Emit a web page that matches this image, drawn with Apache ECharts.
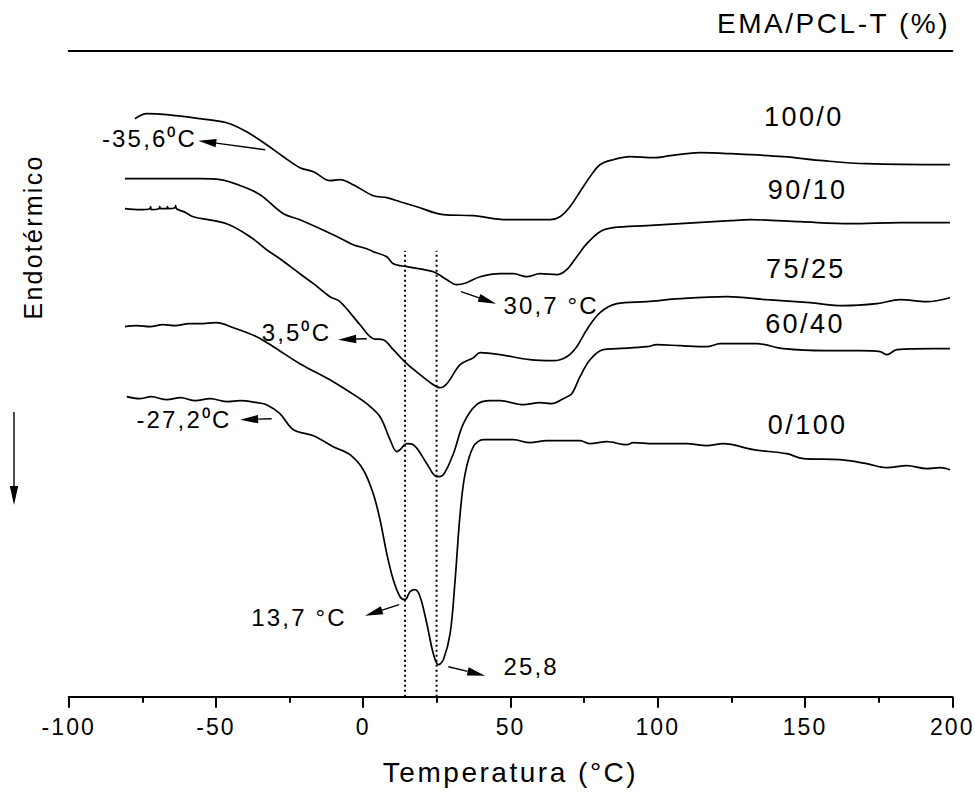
<!DOCTYPE html>
<html>
<head>
<meta charset="utf-8">
<script src="https://cdn.jsdelivr.net/npm/echarts@6/dist/echarts.min.js"></script>
<style>
html,body{margin:0;padding:0;background:#fff;}
#main{width:975px;height:794px;}
#main text{letter-spacing:0.09em;}
</style>
</head>
<body>
<div id="main"></div>
<script>
// ---- data (temperature in °C, heat flow in arbitrary units, offset per curve) ----
const seriesNames = ['100/0', '90/10', '75/25', '60/40', '0/100'];
const xTickValues = [-100, -50, 0, 50, 100, 150, 200];

const curve100_0 = [
  [-77.5,57.8],[-73.5,58.3],[-66.7,58.2],[-55.4,57.8],[-46.4,57.4],[-39.6,56.5],[-32.8,55.2],
  [-27.1,54.0],[-21.5,52.9],[-16.9,52.5],[-11.3,51.6],[-7.9,51.7],[-3.4,51.2],[3.4,50.1],
  [8.0,49.9],[12.5,49.5],[18.2,49.0],[27.2,48.2],[37.4,48.1],[48.7,47.7],[63.4,47.7],
  [66.8,48.0],[70.2,49.0],[73.6,50.5],[77.0,52.0],[80.4,53.2],[84.9,53.7],[90.6,54.0],
  [98.5,53.9],[104.2,54.1],[109.8,54.3],[114.4,54.4],[124.6,54.3],[142.7,54.0],[156.2,53.6],
  [170.9,53.3],[199.2,53.2]
];
const curve90_10 = [
  [-80.9,51.8],[-55.4,51.8],[-48.6,51.7],[-40.7,51.0],[-35.0,50.2],[-27.1,48.3],[-21.5,47.7],
  [-10.2,46.2],[-3.4,45.2],[1.2,44.8],[3.4,44.5],[8.0,44.0],[10.2,43.3],[14.8,43.0],[23.8,42.5],
  [28.4,41.7],[31.7,41.2],[35.1,41.4],[39.7,42.0],[46.5,42.3],[51.0,42.3],[55.5,42.0],[60.0,42.3],
  [65.7,42.2],[69.1,42.7],[72.5,44.0],[75.9,45.3],[80.4,46.5],[84.9,46.9],[96.3,47.1],[107.6,47.3],
  [124.6,47.6],[131.3,47.7],[148.3,47.5],[165.3,47.3],[182.3,47.4],[199.2,47.4]
];
const curve75_25 = [
  [-80.9,48.8],[-75.8,48.7],[-72.4,48.8],[-72.2,49.0],[-71.9,48.7],[-69.3,48.8],[-69.1,49.0],
  [-68.8,48.8],[-66.6,48.8],[-66.5,49.0],[-66.1,48.8],[-63.9,48.9],[-63.7,49.1],[-63.4,48.8],
  [-60.2,48.4],[-57.7,48.0],[-46.4,47.3],[-38.4,46.0],[-32.8,44.7],[-28.3,43.8],[-21.5,42.3],
  [-16.9,41.3],[-11.3,40.0],[-7.9,39.5],[-1.1,37.2],[3.4,35.8],[6.8,35.7],[10.2,34.7],[14.8,33.3],
  [19.3,32.2],[23.8,31.2],[26.1,30.9],[28.4,31.3],[32.9,33.2],[37.4,33.9],[39.7,34.4],[46.5,34.2],
  [56.6,33.7],[64.6,33.6],[69.1,34.0],[72.5,35.0],[75.9,36.7],[80.4,38.4],[86.1,39.3],[96.3,39.5],
  [107.6,39.8],[123.5,40.0],[137.0,39.7],[151.7,39.4],[163.0,39.1],[174.4,39.3],[182.3,39.7],
  [191.3,39.5],[199.2,39.9]
];
const curve60_40 = [
  [-80.9,37.0],[-77.0,37.1],[-72.4,37.0],[-68.0,37.2],[-63.9,37.1],[-59.0,37.3],[-55.4,37.3],
  [-50.0,37.4],[-44.1,36.9],[-36.2,36.0],[-30.5,35.0],[-21.5,33.3],[-10.2,31.5],[-1.1,29.8],
  [1.2,29.3],[5.7,28.0],[9.1,25.7],[11.4,24.5],[12.5,24.7],[14.8,25.3],[17.0,25.2],[21.6,23.3],
  [25.0,22.0],[27.2,22.2],[30.6,24.3],[34.0,27.3],[38.5,29.2],[43.1,29.6],[46.5,29.6],[54.4,29.2],
  [60.0,29.4],[64.0,29.3],[67.9,29.8],[70.8,30.3],[73.6,32.0],[77.0,33.7],[81.5,34.7],[86.1,34.8],
  [96.3,35.0],[99.7,35.2],[107.6,35.1],[116.6,35.0],[121.2,35.3],[133.6,35.3],[142.7,34.8],
  [157.4,34.6],[168.7,34.6],[175.5,34.5],[177.8,34.2],[181.2,34.7],[193.6,34.8],[199.2,34.8]
];
const curve0_100 = [
  [-80.3,30.0],[-76.0,29.8],[-72.0,30.0],[-66.7,29.7],[-62.0,29.9],[-57.0,29.6],[-52.0,29.8],
  [-46.0,29.5],[-41.8,29.6],[-36.0,29.4],[-32.8,29.2],[-28.3,28.3],[-23.7,26.7],[-16.9,26.1],
  [-10.2,25.0],[-4.5,24.2],[0.0,22.7],[3.4,20.3],[5.7,17.7],[8.0,14.3],[10.2,11.7],[12.5,10.0],
  [14.2,9.7],[15.9,10.5],[17.6,10.7],[19.3,10.0],[21.6,7.3],[23.8,4.3],[25.5,3.2],[27.2,3.7],
  [29.5,6.3],[31.2,11.7],[32.9,18.3],[34.6,22.3],[37.4,25.0],[40.8,25.7],[46.5,25.7],[51.0,25.7],
  [56.6,25.4],[62.3,25.6],[73.6,25.6],[77.0,25.3],[82.7,25.5],[89.5,25.2],[91.7,25.4],[98.5,25.3],
  [109.8,25.3],[116.6,25.1],[122.3,25.3],[132.5,24.7],[143.8,24.3],[149.4,23.8],[161.9,23.7],
  [170.9,23.3],[177.8,22.9],[184.6,23.1],[191.3,22.8],[195.9,22.9],[199.2,22.7]
];
const refLineTemps = [14.2, 24.9];   // dotted reference lines (°C)
const refLineTop = 44.6;

// annotation texts and arrows (data coordinates)
const annotationTexts = ['-35,6\u2070C', '30,7 \u00B0C', '3,5\u2070C', '-27,2\u2070C', '13,7 \u00B0C', '25,8'];
const annotationAt = [[-56.4,55.8],[47.6,39.1],[-10.9,36.4],[-44.7,27.7],[-5.6,7.9],[47.6,3.0]];
const annotationAlign = ['right','left','right','right','right','left'];
const arrowFrom = [[-33.3,54.7],[33.2,40.5],[1.2,35.8],[-31.1,27.8],[12.2,9.2],[28.9,3.0]];
const arrowTo   = [[-56.0,55.6],[45.1,39.3],[-8.5,35.7],[-41.8,27.7],[0.6,8.1],[41.4,2.1]];
const seriesLabelAt = [[149.6,58.0],[150.9,50.7],[150.3,42.8],[150.0,37.3],[150.9,27.2]];

// ---- chart ----
const FONT = '"Liberation Sans", Arial, Helvetica, sans-serif';
const chart = echarts.init(document.getElementById('main'), null, {renderer: 'svg'});
const curves = [curve100_0, curve90_10, curve75_25, curve60_40, curve0_100];

const series = curves.map((d, i) => ({
  type: 'line', name: seriesNames[i], data: d, xAxisIndex: 0, yAxisIndex: 0,
  symbol: 'none', smooth: 0.35, silent: true,
  lineStyle: {color: '#000', width: 1.7}
}));
refLineTemps.forEach(t => series.push({
  type: 'line', data: [[t, 0], [t, refLineTop]], xAxisIndex: 0, yAxisIndex: 0,
  symbol: 'none', silent: true, lineStyle: {color: '#000', width: 2, type: [2, 3]}
}));

const option = {
  animation: false,
  backgroundColor: '#fff',
  grid: {left: 68.7, right: 22.7, top: 51, bottom: 97.3},
  xAxis: [{
    type: 'value', min: xTickValues[0], max: xTickValues[xTickValues.length - 1], interval: 50,
    position: 'bottom',
    name: 'Temperatura (\u00B0C)', nameLocation: 'middle', nameGap: 76,
    nameTextStyle: {color: '#000', fontSize: 28, fontFamily: FONT, verticalAlign: 'middle'},
    axisLine: {onZero: false, lineStyle: {color: '#000', width: 2}},
    axisTick: {length: 11, lineStyle: {color: '#000', width: 2}},
    minorTick: {show: true, splitNumber: 2, length: 6, lineStyle: {color: '#000', width: 2}},
    splitLine: {show: false}, minorSplitLine: {show: false},
    axisLabel: {color: '#000', fontSize: 23, fontFamily: FONT, margin: 19, showMinLabel: true, showMaxLabel: true}
  }, {
    type: 'value', min: -100, max: 200, position: 'top',
    axisLine: {onZero: false, lineStyle: {color: '#000', width: 2}},
    axisTick: {show: false}, axisLabel: {show: false}, splitLine: {show: false}
  }],
  yAxis: {type: 'value', min: 0, max: 64.57, show: false},
  series: series
};
chart.setOption(option);

// ---- annotations drawn from data coordinates ----
const P = p => chart.convertToPixel({gridIndex: 0}, p);
const els = [];
function txt(x, y, text, size, align, rot) {
  return {type: 'text', x: x, y: y, rotation: rot || 0, silent: true,
    style: {text: text, fontSize: size, fontFamily: FONT, fill: '#000',
      align: align, textAlign: align, verticalAlign: 'middle', textVerticalAlign: 'middle'}};
}
function arrow(a, b, len, hw, width) {
  const dx = b[0] - a[0], dy = b[1] - a[1];
  const L = Math.hypot(dx, dy), ux = dx / L, uy = dy / L;
  const bx = b[0] - ux * len, by = b[1] - uy * len;
  const nx = -uy * hw, ny = ux * hw;
  els.push({type: 'line', silent: true, shape: {x1: a[0], y1: a[1], x2: bx, y2: by},
    style: {stroke: '#000', lineWidth: width}});
  els.push({type: 'polygon', silent: true,
    shape: {points: [[b[0], b[1]], [bx + nx, by + ny], [bx - nx, by - ny]]},
    style: {fill: '#000'}});
}
seriesNames.forEach((n, i) => {
  const p = P(seriesLabelAt[i]);
  els.push(txt(p[0], p[1], n, 27, 'center'));
});
annotationTexts.forEach((t, i) => {
  const p = P(annotationAt[i]);
  els.push(txt(p[0], p[1], t, 24, annotationAlign[i]));
});
arrowFrom.forEach((f, i) => arrow(P(f), P(arrowTo[i]), 18, 4.2, 1.4));

// header and y-direction labels
els.push(txt(950, 23.5, 'EMA/PCL-T (%)', 28, 'right'));
els.push(txt(32.5, 237, 'Endot\u00E9rmico', 25, 'center', Math.PI / 2));
arrow([14, 412], [14, 505], 19, 4.2, 1.4);

chart.setOption({graphic: {elements: els}});
</script>
</body>
</html>
